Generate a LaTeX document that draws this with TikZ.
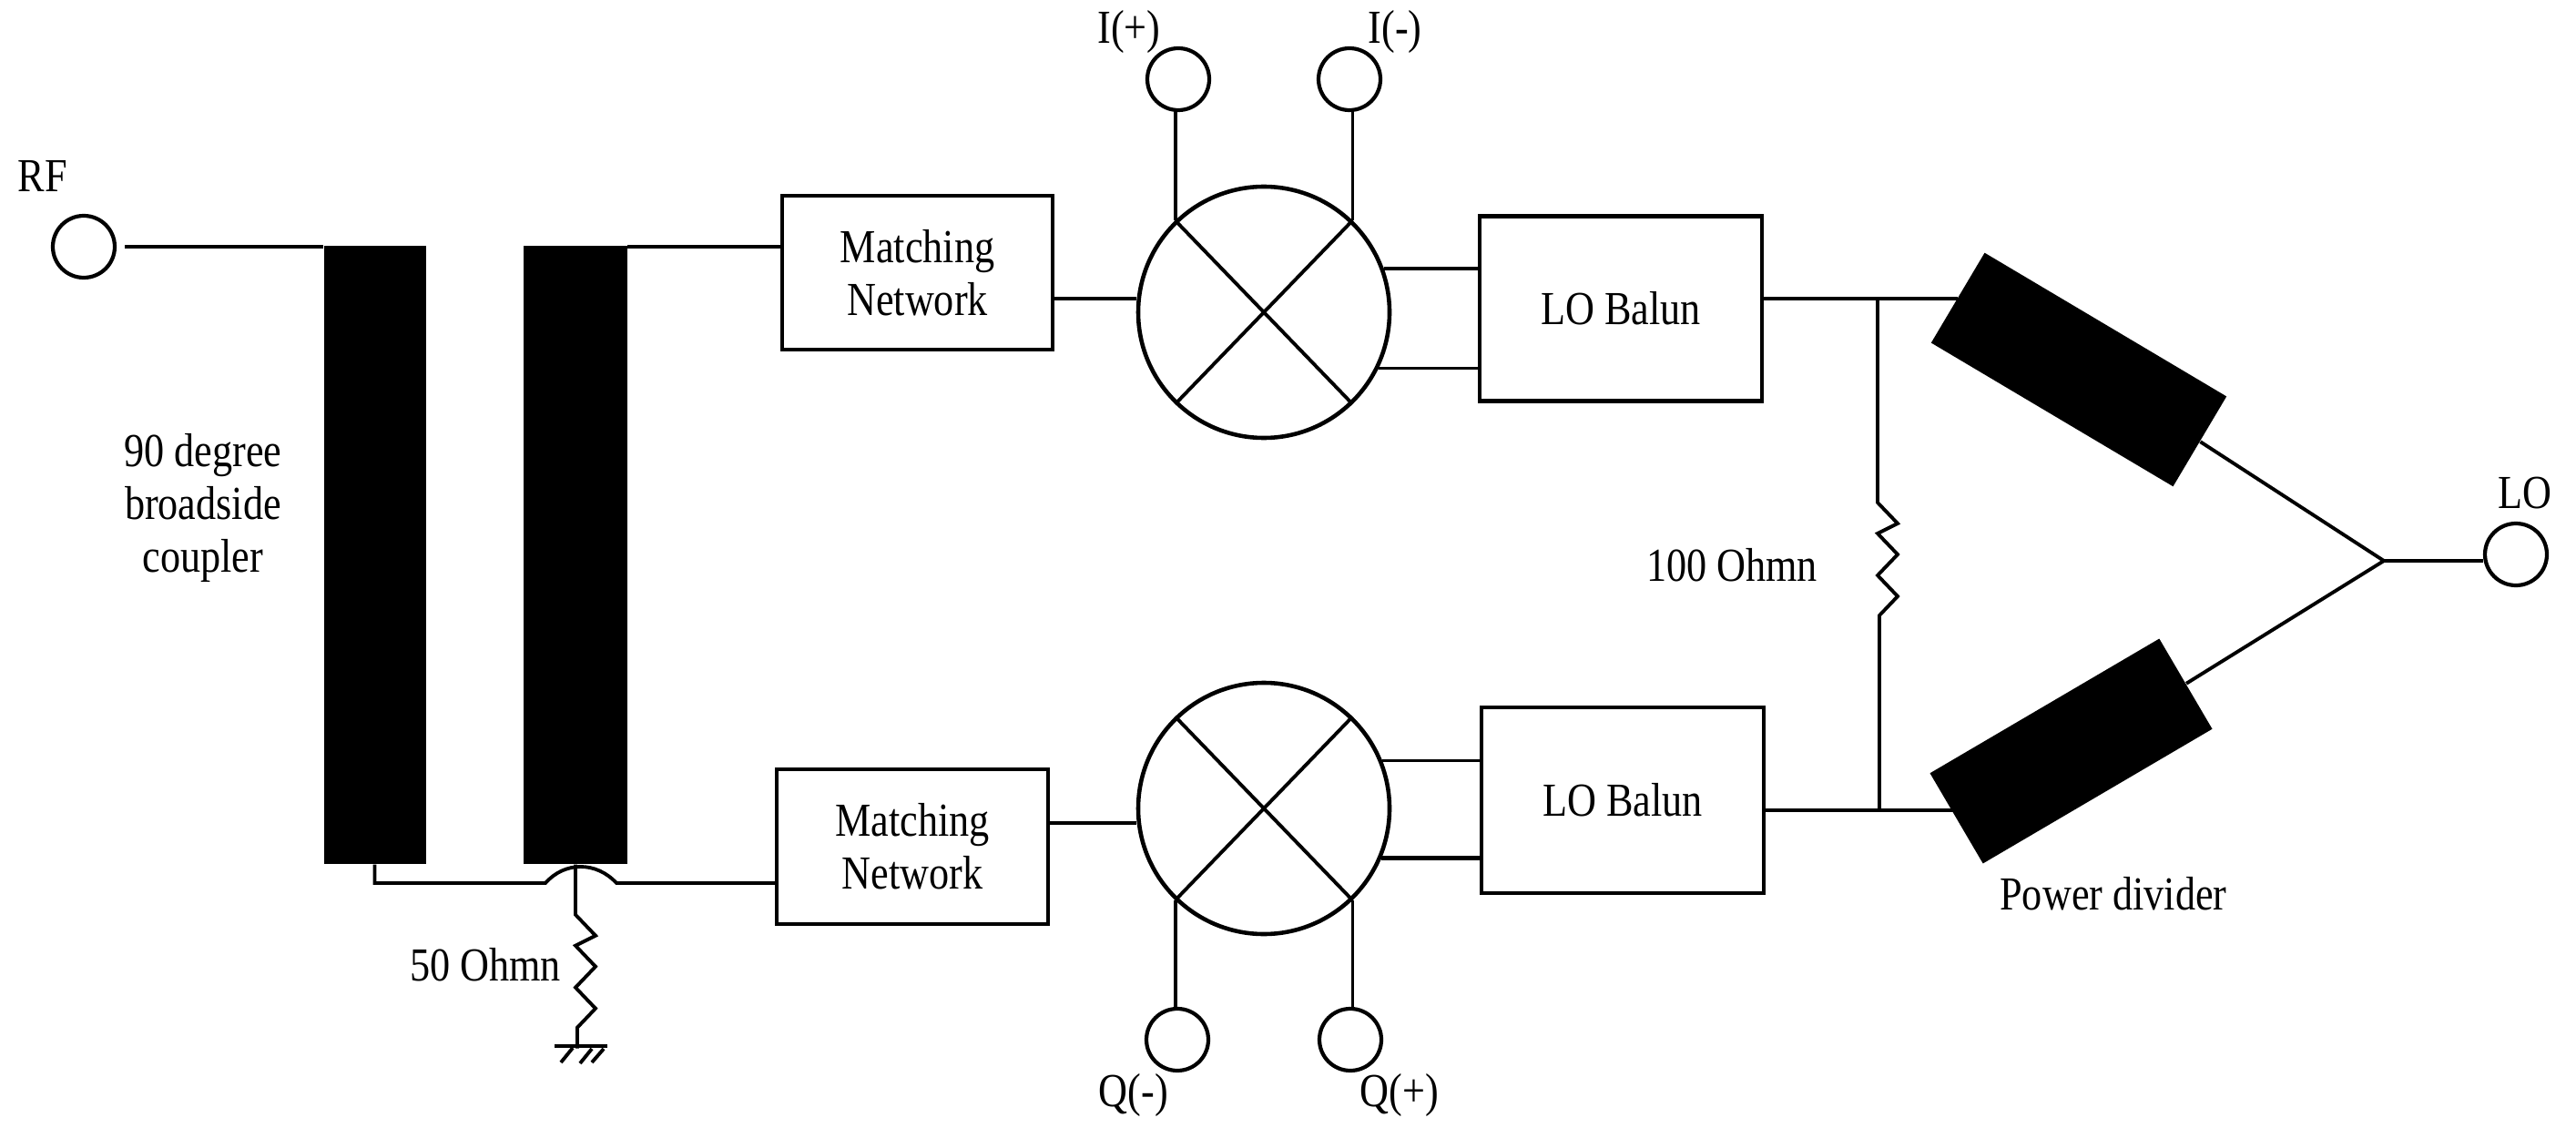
\documentclass[tikz,border=0pt]{standalone}
\usepackage{fontspec}
\setmainfont[FakeStretch=0.85]{Liberation Serif}
\tikzset{
    wire/.style={line width=1.1pt},
    port/.style={circle, draw, line width=1.2pt, inner sep=0pt, minimum size=0.68cm},
    mixer/.style={circle, draw, line width=1.3pt, inner sep=0pt, minimum size=2.76cm},
    block/.style={rectangle, draw, line width=1.2pt, align=center, inner sep=0pt},
    strip/.style={rectangle, fill=black, inner sep=0pt},
    label/.style={inner sep=0pt, align=center}
}
\newcommand{\zigzag}{-- ++(0.22,-0.23) -- ++(-0.22,-0.11) -- ++(0.22,-0.23) -- ++(-0.22,-0.23) -- ++(0.22,-0.23) -- ++(-0.20,-0.21)}
\begin{document}
\begin{tikzpicture}[font=\fontsize{14.8}{16.5}\selectfont]
        \useasboundingbox (0, 0) rectangle (28.29, 12.49);

        % Ports
        \node[port] (RF) at (0.92, 9.78) {};
        \node[port] (Ip) at (12.94, 11.62) {};
        \node[port] (Im) at (14.82, 11.62) {};
        \node[port] (Qm) at (12.93, 1.07) {};
        \node[port] (Qp) at (14.83, 1.07) {};
        \node[port] (LO) at (27.63, 6.40) {};

        % Coupler
        \node[strip, minimum width=1.12cm, minimum height=6.79cm] (coupA) at (4.115, 6.395) {};
        \node[strip, minimum width=1.135cm, minimum height=6.79cm] (coupB) at (6.32, 6.395) {};

        % Blocks
        \node[block, minimum width=2.97cm, minimum height=1.69cm] (matchI) at (10.075, 9.495) {Matching\\Network};
        \node[block, minimum width=2.98cm, minimum height=1.70cm] (matchQ) at (10.02, 3.19) {Matching\\Network};
        \node[mixer] (mixI) at (13.88, 9.06) {};
        \node[mixer] (mixQ) at (13.88, 3.61) {};
        \node[block, minimum width=3.10cm, minimum height=2.03cm] (balunI) at (17.80, 9.10) {LO Balun};
        \node[block, minimum width=3.10cm, minimum height=2.04cm] (balunQ) at (17.82, 3.70) {LO Balun};

        % Power divider
        \node[strip, minimum width=3.09cm, minimum height=1.15cm, rotate=-30.7] (divI) at (22.83, 8.43) {};
        \node[strip, minimum width=2.92cm, minimum height=1.15cm, rotate=30.4] (divQ) at (22.745, 4.24) {};

        % Free ends
        \coordinate (tapI) at (20.62, 9.21);
        \coordinate (tapQ) at (20.64, 3.59);
        \coordinate (split) at (26.18, 6.33);
        \coordinate (crossL) at (5.99, 2.79);
        \coordinate (crossR) at (6.77, 2.79);
        \coordinate (gnd) at (6.35, 1.00);

        % Top branch
        \draw[wire, shorten <=0.09cm] (RF.east) -- (RF.east -| coupA.west);
        \draw[wire] (RF.east -| coupB.east) -- (RF.east -| matchI.west);
        \draw[wire] (matchI.east |- tapI) -- (mixI.west |- tapI);
        \draw[wire, line width=1.4pt] (mixI.20) -- (mixI.20 -| balunI.west);
        \draw[wire] (mixI.-26) -- (mixI.-26 -| balunI.west);
        \draw[wire] (tapI -| balunI.east) -- (tapI) -- (tapI -| divI.west);
        \draw[wire] (mixI.134) -- (mixI.-46);
        \draw[wire] (mixI.46) -- (mixI.-134);
        \draw[wire] (Ip.south -| mixI.134) -- (mixI.134);
        \draw[wire] (Im.south -| mixI.46) -- (mixI.46);

        % Bottom branch
        \draw[wire] (coupA.south) |- (crossL) .. controls (6.2, 3.03) and (6.55, 3.03) .. (crossR) -- (crossR -| matchQ.west);
        \draw[wire] (matchQ.east |- 0, 3.45) -- (mixQ.west |- 0, 3.45);
        \draw[wire] (mixQ.22) -- (mixQ.22 -| balunQ.west);
        \draw[wire, line width=1.4pt] (mixQ.-23) -- (mixQ.-23 -| balunQ.west);
        \draw[wire] (tapQ -| balunQ.east) -- (tapQ) -- (tapQ -| divQ.west);
        \draw[wire] (mixQ.134) -- (mixQ.-46);
        \draw[wire] (mixQ.46) -- (mixQ.-134);
        \draw[wire] (mixQ.-134) -- (mixQ.-134 |- Qm.north);
        \draw[wire] (mixQ.-46) -- (mixQ.-46 |- Qp.north);

        % Resistors
        \draw[wire] (tapI) -- ++(0, -2.24) \zigzag -- (tapQ);
        \draw[wire] (coupB.south) -- ++(0, -0.55) \zigzag -- ++(0, -0.23) coordinate (gndtop);

        % Ground
        \draw[wire] (6.09, 1.00) -- (6.67, 1.00);
        \draw[wire] (6.29, 0.98) -- (6.16, 0.82);
        \draw[wire] (6.50, 0.97) -- (6.37, 0.81);
        \draw[wire] (6.63, 0.97) -- (6.50, 0.82);

        % Divider to LO
        \draw[wire] (divI.east) -- (split);
        \draw[wire] (divQ.east) -- (split);
        \draw[wire] (split) -- (LO.west |- split);

        % Labels
        \node[label] (RFtxt) at (0.47, 10.56) {RF};
        \node[label] (Iptxt) at (12.40, 12.14) {I(+)};
        \node[label] (Imtxt) at (15.32, 12.14) {I(-)};
        \node[label] (Qmtxt) at (12.45, 0.46) {Q(-)};
        \node[label] (Qptxt) at (15.37, 0.46) {Q(+)};
        \node[label] (LOtxt) at (27.73, 7.07) {LO};
        \node[label] (cptxt) at (2.23, 6.91) {90 degree\\broadside\\coupler};
        \node[label] (r50txt) at (5.33, 1.89) {50 Ohmn};
        \node[label] (r100txt) at (19.02, 6.28) {100 Ohmn};
        \node[label] (pdtxt) at (23.21, 2.67) {Power divider};

\end{tikzpicture}
\end{document}
